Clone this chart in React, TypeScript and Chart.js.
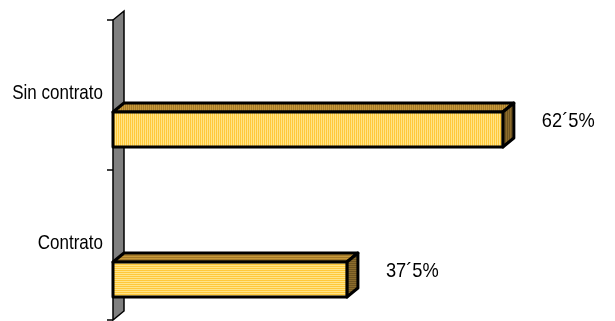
import React, { useEffect, useRef } from 'react';
import { Chart, registerables } from 'chart.js';

Chart.register(...registerables);

const categories = ['Sin contrato', 'Contrato'];
const values = [62.5, 37.5];
const valueLabels = ['62´5%', '37´5%'];
const xMin = 0;
const xMax = 80;

const FONT = "'Liberation Sans', Arial, sans-serif";
const DX = 11;
const DY = 9;
const SHIFT = 34.5;

function stripePattern(ctx: CanvasRenderingContext2D, a: string, b: string, vertical: boolean) {
  const c = document.createElement('canvas');
  c.width = 2;
  c.height = 2;
  const g = c.getContext('2d')!;
  g.fillStyle = a;
  g.fillRect(0, 0, 2, 2);
  g.fillStyle = b;
  if (vertical) g.fillRect(1, 0, 1, 2);
  else g.fillRect(0, 1, 2, 1);
  return ctx.createPattern(c, 'repeat')!;
}

function narrowText(
  ctx: CanvasRenderingContext2D,
  text: string,
  x: number,
  y: number,
  size: number,
  squeeze: number,
  align: CanvasTextAlign
) {
  ctx.save();
  ctx.translate(x, y);
  ctx.scale(squeeze, 1);
  ctx.font = `${size}px ${FONT}`;
  ctx.fillStyle = '#000';
  ctx.textAlign = align;
  ctx.textBaseline = 'middle';
  ctx.fillText(text, 0, 0);
  ctx.restore();
}

const bars3d = {
  id: 'bars3d',
  beforeDatasetsDraw(chart: any) {
    const ctx: CanvasRenderingContext2D = chart.ctx;
    const ca = chart.chartArea;
    const ys = chart.scales.y;
    const L = ca.left;
    ctx.save();
    // wall
    ctx.beginPath();
    ctx.moveTo(L, ca.top);
    ctx.lineTo(L + DX, ca.top - DY);
    ctx.lineTo(L + DX, ca.bottom - DY);
    ctx.lineTo(L, ca.bottom);
    ctx.closePath();
    ctx.fillStyle = '#808080';
    ctx.fill();
    ctx.strokeStyle = '#000';
    ctx.lineWidth = 1.5;
    ctx.stroke();
    // ticks at band boundaries
    const n = categories.length;
    for (let i = 0; i <= n; i++) {
      const yy = i === 0 ? ca.top : i === n ? ca.bottom : (ys.getPixelForValue(i - 1) + ys.getPixelForValue(i)) / 2;
      ctx.beginPath();
      ctx.moveTo(L - 6, yy);
      ctx.lineTo(L, yy);
      ctx.stroke();
    }
    // category labels
    categories.forEach((c, i) => {
      narrowText(ctx, c, L - 10, ys.getPixelForValue(i) - 2, 21, 0.81, 'right');
    });
    ctx.restore();
  },
  afterDatasetsDraw(chart: any) {
    const ctx: CanvasRenderingContext2D = chart.ctx;
    const meta = chart.getDatasetMeta(0);
    ctx.save();
    meta.data.forEach((el: any, i: number) => {
      const vertical = i === 0;
      const x0 = el.base;
      const x1 = el.x;
      const h = el.height;
      const yT = el.y + SHIFT - h / 2;
      const yB = el.y + SHIFT + h / 2;
      const front = stripePattern(ctx, '#FFC83A', '#FFE488', vertical);
      const top = stripePattern(ctx, '#C89A3A', '#A47A2A', vertical);
      const side = stripePattern(ctx, '#8C6C2C', '#6E5420', vertical);
      ctx.lineJoin = 'round';
      ctx.lineWidth = 3;
      ctx.strokeStyle = '#000';
      // top face
      ctx.beginPath();
      ctx.moveTo(x0, yT);
      ctx.lineTo(x0 + DX, yT - DY);
      ctx.lineTo(x1 + DX, yT - DY);
      ctx.lineTo(x1, yT);
      ctx.closePath();
      ctx.fillStyle = top;
      ctx.fill();
      ctx.stroke();
      // side face
      ctx.beginPath();
      ctx.moveTo(x1, yT);
      ctx.lineTo(x1 + DX, yT - DY);
      ctx.lineTo(x1 + DX, yB - DY);
      ctx.lineTo(x1, yB);
      ctx.closePath();
      ctx.fillStyle = side;
      ctx.fill();
      ctx.stroke();
      // front face
      ctx.beginPath();
      ctx.rect(x0, yT, x1 - x0, yB - yT);
      ctx.fillStyle = front;
      ctx.fill();
      ctx.stroke();
      // value label
      narrowText(ctx, valueLabels[i], x1 + 39, el.y + SHIFT - 8, 21, 0.87, 'left');
    });
    ctx.restore();
  },
};

export default function App() {
  const ref = useRef<HTMLCanvasElement>(null);
  useEffect(() => {
    const chart = new Chart(ref.current!, {
      type: 'bar',
      data: {
        labels: categories,
        datasets: [
          {
            data: values,
            backgroundColor: 'rgba(0,0,0,0)',
            borderWidth: 0,
            barThickness: 35,
          },
        ],
      },
      plugins: [bars3d],
      options: {
        indexAxis: 'y',
        animation: false,
        responsive: false,
        maintainAspectRatio: false,
        layout: { padding: { left: 113, top: 20, right: 3, bottom: 1 } },
        plugins: { legend: { display: false }, tooltip: { enabled: false } },
        scales: {
          x: { display: false, min: xMin, max: xMax },
          y: { display: false },
        },
      },
    });
    return () => chart.destroy();
  }, []);
  return (
    <div style={{ position: 'absolute', left: 0, top: 0, width: 615, height: 321, background: '#fff' }}>
      <canvas ref={ref} width={615} height={321} />
    </div>
  );
}
